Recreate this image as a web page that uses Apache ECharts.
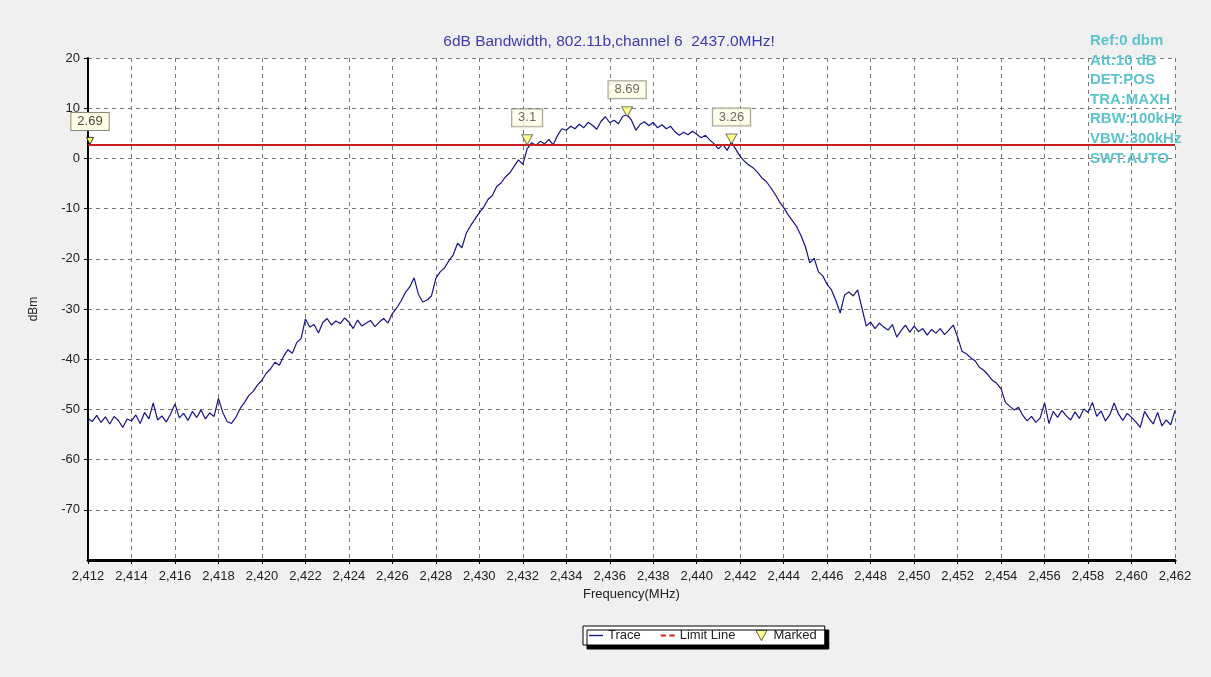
<!DOCTYPE html>
<html>
<head>
<meta charset="utf-8">
<script src="https://cdn.jsdelivr.net/npm/echarts@6/dist/echarts.min.js"></script>
<style>
html,body{margin:0;padding:0;background:#f0f0f0;}
#chart{width:1211px;height:677px;}
</style>
</head>
<body>
<div id="chart"></div>
<script>
// Sweep grid of the trace (MHz)
const freqStart = 2412;
const freqStep = 0.2;
// Trace values (dBm), one per sweep point
const traceValues = [
  -51.8,-52.4,-51.2,-52.6,-51.5,-52.9,-51.4,-52.2,-53.6,-51.9,
  -52.3,-51.1,-52.8,-50.6,-51.9,-48.7,-52.1,-51.3,-52.5,-50.9,
  -48.9,-51.7,-50.8,-52.2,-50.4,-51.6,-50.1,-51.9,-50.7,-51.4,
  -47.8,-50.6,-52.4,-52.8,-51.6,-49.8,-48.6,-47.2,-46.4,-45.1,
  -44.2,-42.8,-41.9,-40.6,-41.2,-39.4,-38.1,-38.8,-36.7,-35.9,
  -32.0,-33.6,-33.1,-34.8,-32.7,-31.9,-33.2,-32.4,-32.9,-31.8,
  -32.6,-33.9,-32.2,-33.4,-32.8,-32.3,-33.5,-32.6,-31.9,-32.8,
  -30.9,-29.8,-28.4,-26.7,-25.6,-23.8,-27.1,-28.6,-28.2,-27.4,
  -23.9,-22.6,-21.8,-20.4,-19.2,-16.9,-17.8,-14.9,-13.4,-12.1,
  -10.8,-9.7,-8.2,-7.4,-5.6,-4.9,-3.7,-2.9,-1.6,-0.3,
  -1.2,1.9,3.1,2.6,3.4,2.9,3.8,2.7,4.6,5.9,
  5.6,6.4,5.9,6.8,6.1,7.2,6.6,5.8,7.4,8.3,
  7.1,7.6,6.9,8.4,8.69,7.6,5.6,6.8,7.3,6.5,
  7.2,6.1,6.7,5.9,6.4,5.3,4.6,5.2,4.7,5.4,
  4.8,4.1,4.6,3.7,2.9,1.9,2.8,1.6,3.26,1.8,
  0.4,-0.6,-1.3,-1.9,-2.8,-3.9,-4.6,-5.8,-7.1,-8.6,
  -9.8,-11.2,-12.4,-13.6,-15.4,-17.6,-20.8,-19.9,-22.6,-23.4,
  -25.1,-26.2,-28.3,-30.8,-27.2,-26.6,-27.4,-26.2,-29.8,-33.4,
  -32.6,-33.9,-32.8,-33.6,-34.2,-33.1,-35.6,-34.3,-33.2,-34.6,
  -33.4,-34.5,-33.9,-35.2,-34.1,-34.8,-33.9,-35.1,-34.2,-33.2,
  -35.6,-38.4,-38.9,-39.7,-40.3,-41.6,-42.2,-43.1,-44.2,-44.8,
  -45.9,-48.6,-49.4,-50.1,-49.6,-51.2,-52.3,-51.4,-52.6,-51.7,
  -48.7,-52.8,-50.4,-51.6,-50.2,-51.3,-52.1,-50.5,-51.8,-49.9,
  -50.6,-48.6,-51.4,-50.3,-52.3,-51.1,-48.7,-50.9,-52.2,-50.8,
  -51.6,-52.5,-53.6,-50.4,-51.8,-52.9,-50.6,-53.3,-52.1,-53.1,
  -50.2
];
// Limit line
const limitValue = 2.69;
const limitRange = [2412, 2462];
// Markers
const markerFreqs = [2432.2, 2436.8, 2441.6];
const markerValues = [3.1, 8.69, 3.26];
// Axis
const xMin = 2412, xMax = 2462, xInterval = 2;
const yMin = -80, yMax = 20, yInterval = 10;
// Texts
const titleText = '6dB Bandwidth, 802.11b,channel 6  2437.0MHz!';
const infoLines = ['Ref:0 dbm','Att:10 dB','DET:POS','TRA:MAXH','RBW:100kHz','VBW:300kHz','SWT:AUTO'];

const traceData = traceValues.map((v, i) => [+(freqStart + i * freqStep).toFixed(1), v]);
const markerData = markerFreqs.map((f, i) => [f, markerValues[i]]);
const limitData = limitRange.map(f => [f, limitValue]);

const fmtFreq = v => String(Math.round(v)).replace(/(\d)(\d{3})$/, '$1,$2');
const FONT = 'Liberation Sans, Arial, sans-serif';

const chart = echarts.init(document.getElementById('chart'), null, {renderer: 'canvas'});
const labelBox = {
  show: true, position: 'top', distance: 8,
  backgroundColor: '#ffffe6', borderColor: '#8a8a7a', borderWidth: 1,
  padding: [2, 6], color: '#444', fontSize: 13, fontFamily: FONT
};
chart.setOption({
  backgroundColor: '#f0f0f0',
  animation: false,
  title: [{
    text: titleText, left: 604, top: 29, textAlign: 'center',
    textStyle: {color: '#3c3cae', fontSize: 15.5, fontWeight: 'normal', fontFamily: FONT}
  }, {
    text: infoLines.join('\n'), left: 1085, top: 26,
    textStyle: {color: '#5cc4cc', fontSize: 15, fontWeight: 'bold', lineHeight: 19.6, fontFamily: FONT}
  }],
  grid: {left: 88, right: 36, top: 58, bottom: 117, show: true, backgroundColor: '#ffffff', borderWidth: 0},
  legend: {
    left: 583, top: 626, itemGap: 20, itemWidth: 14, itemHeight: 10,
    backgroundColor: '#ffffff', borderColor: '#000', borderWidth: 1, padding: [3, 8, 3, 6],
    shadowColor: '#000', shadowOffsetX: 4, shadowOffsetY: 4, shadowBlur: 0,
    textStyle: {color: '#222', fontSize: 13, fontFamily: FONT},
    data: [
      {name: 'Trace', icon: 'path://M0,4 L14,4 L14,5.4 L0,5.4 Z', itemStyle: {color: '#1a1a8c'}},
      {name: 'Limit Line', icon: 'path://M0,4 L5,4 L5,6 L0,6 Z M8,4 L13,4 L13,6 L8,6 Z', itemStyle: {color: '#d42020'}},
      {name: 'Marked', icon: 'path://M0,0 L10,0 L5,9 Z', itemStyle: {color: '#ffff70', borderColor: '#333', borderWidth: 1}}
    ]
  },
  xAxis: {
    type: 'value', min: xMin, max: xMax, interval: xInterval,
    name: 'Frequency(MHz)', nameLocation: 'middle', nameGap: 28,
    nameTextStyle: {color: '#222', fontSize: 13, fontFamily: FONT},
    axisLine: {show: true, onZero: false, lineStyle: {color: '#000', width: 3}},
    axisTick: {show: true, length: 4, lineStyle: {color: '#000'}},
    minorTick: {show: true, splitNumber: 4, length: 2, lineStyle: {color: '#000'}},
    axisLabel: {color: '#222', fontSize: 13, margin: 10, formatter: fmtFreq, fontFamily: FONT},
    splitLine: {show: true, lineStyle: {color: '#777', type: [4, 4], width: 1}}
  },
  yAxis: {
    type: 'value', min: yMin, max: yMax, interval: yInterval,
    name: 'dBm', nameLocation: 'middle', nameGap: 48, nameRotate: 90,
    nameTextStyle: {color: '#222', fontSize: 12, fontFamily: FONT},
    axisLine: {show: true, lineStyle: {color: '#000', width: 2}},
    axisTick: {show: true, length: 4, lineStyle: {color: '#000'}},
    axisLabel: {color: '#222', fontSize: 13, margin: 8, showMinLabel: false, fontFamily: FONT},
    splitLine: {show: true, lineStyle: {color: '#777', type: [4, 4], width: 1}}
  },
  series: [{
    name: 'Trace', type: 'line', data: traceData, showSymbol: false, symbol: 'none',
    lineStyle: {color: '#14148a', width: 1.2}, itemStyle: {color: '#1a1a8c'}, z: 3
  }, {
    name: 'Limit Line', type: 'line', data: limitData, showSymbol: false, symbol: 'none',
    lineStyle: {color: '#c41e1e', width: 2}, itemStyle: {color: '#d42020'}, z: 4,
    markPoint: {
      symbol: 'path://M0,0 L10,0 L5,9 Z', symbolSize: [7, 7], symbolOffset: [2, -4],
      itemStyle: {color: '#ffff70', borderColor: '#333', borderWidth: 1},
      label: Object.assign({}, labelBox, {distance: 7, formatter: () => String(limitValue)}),
      data: [{coord: [limitRange[0], limitValue]}]
    }
  }, {
    name: 'Marked', type: 'scatter', data: markerData,
    symbol: 'path://M0,0 L10,0 L5,9 Z', symbolSize: [11, 10], symbolOffset: [0, -3],
    itemStyle: {color: '#ffff70', borderColor: '#555', borderWidth: 1}, z: 5,
    label: Object.assign({}, labelBox, {formatter: p => String(p.value[1])})
  }]
});
</script>
</body>
</html>
